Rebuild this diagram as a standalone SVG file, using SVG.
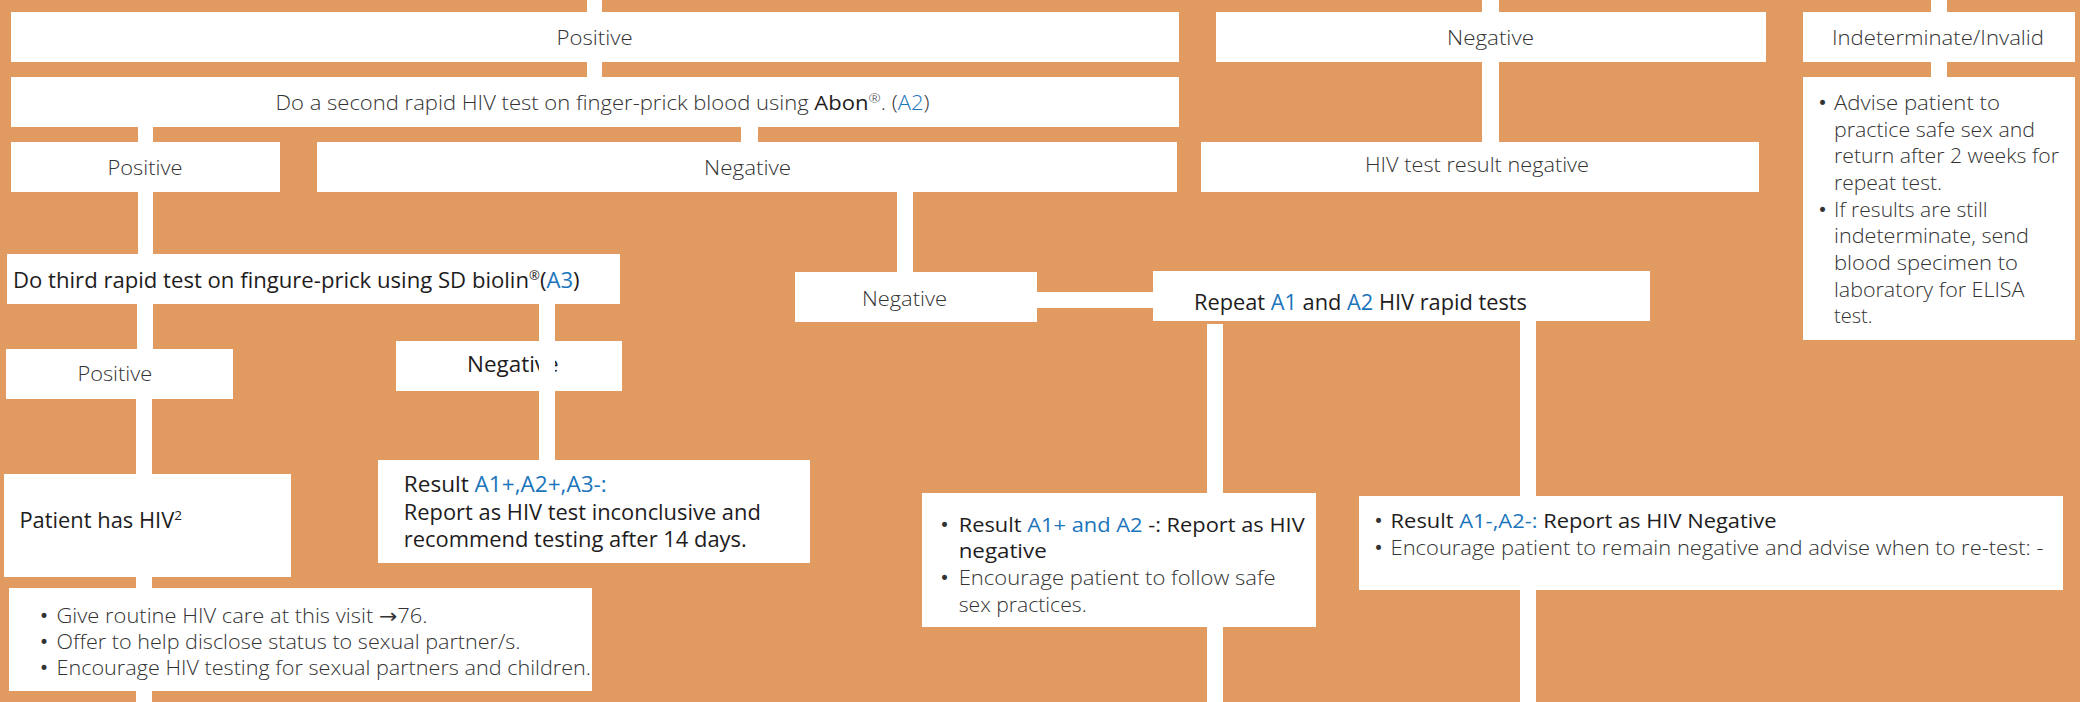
<svg xmlns="http://www.w3.org/2000/svg" width="2080" height="702" viewBox="0 0 2080 702">
<defs>
<style>
.box{fill:#ffffff}
.con{fill:#ffffff}
text{font-family:"Open Sans","Liberation Sans",sans-serif}
.lt{font-weight:300;fill:#333333;font-size:19.5px}
.dk{font-weight:400;fill:#1e1c1d;font-size:20px}
.bl{fill:#1b75bb}
.sup{font-size:13px}
.mid{text-anchor:middle}
.bu{font-family:"DejaVu Sans","Liberation Sans",sans-serif;font-weight:400;fill:#333333;font-size:17px;text-anchor:middle}
.ar{font-family:"DejaVu Sans","Liberation Sans",sans-serif;font-weight:400}
</style>
</defs>
<rect x="0" y="0" width="2080" height="702" fill="#E19A60"/>

<g id="n-positive-top"><rect class="box" x="11" y="12" width="1168" height="50"/><text class="lt mid" x="594.6" y="45" textLength="76" lengthAdjust="spacingAndGlyphs">Positive</text></g>
<g id="n-negative-top"><rect class="box" x="1216" y="12" width="550" height="50"/><text class="lt mid" x="1490.5" y="45" textLength="87" lengthAdjust="spacingAndGlyphs">Negative</text></g>
<g id="n-indeterminate"><rect class="box" x="1803" y="12" width="272" height="50"/><text class="lt mid" x="1938" y="45" textLength="212" lengthAdjust="spacingAndGlyphs">Indeterminate/Invalid</text></g>

<g id="n-second-test"><rect class="box" x="11" y="77" width="1168" height="50"/><text class="lt" x="275.5" y="110" textLength="654" lengthAdjust="spacingAndGlyphs">Do a second rapid HIV test on finger-prick blood using <tspan class="dk" style="font-size:19.5px">Abon</tspan><tspan class="sup" dy="-7">®</tspan><tspan dy="7">. (</tspan><tspan class="bl">A2</tspan>)</text></g>

<g id="n-indet-advice"><rect class="box" x="1803" y="77" width="272" height="263"/>
<text class="bu" x="1822.5" y="109">•</text>
<text class="bu" x="1822.5" y="215.7">•</text>
<g class="lt" style="font-size:21px">
<text x="1834" y="110" textLength="166" lengthAdjust="spacingAndGlyphs">Advise patient to</text>
<text x="1834" y="136.7" textLength="201" lengthAdjust="spacingAndGlyphs">practice safe sex and</text>
<text x="1834" y="163.3" textLength="225" lengthAdjust="spacingAndGlyphs">return after 2 weeks for</text>
<text x="1834" y="190" textLength="108" lengthAdjust="spacingAndGlyphs">repeat test.</text>
<text x="1834" y="216.7" textLength="153.6" lengthAdjust="spacingAndGlyphs">If results are still</text>
<text x="1834" y="243.3" textLength="195" lengthAdjust="spacingAndGlyphs">indeterminate, send</text>
<text x="1834" y="270" textLength="184" lengthAdjust="spacingAndGlyphs">blood specimen to</text>
<text x="1834" y="296.7" textLength="190.4" lengthAdjust="spacingAndGlyphs">laboratory for ELISA</text>
<text x="1834" y="323.3" textLength="38.6" lengthAdjust="spacingAndGlyphs">test.</text>
</g></g>

<g id="n-positive-2"><rect class="box" x="11" y="142" width="269" height="50"/><text class="lt mid" x="145" y="175" textLength="75" lengthAdjust="spacingAndGlyphs">Positive</text></g>
<g id="n-negative-2"><rect class="box" x="317" y="142" width="860" height="50"/><text class="lt mid" x="747.6" y="175" textLength="87" lengthAdjust="spacingAndGlyphs">Negative</text></g>
<g id="n-hiv-negative"><rect class="box" x="1201" y="142" width="558" height="50"/><text class="lt mid" x="1477" y="171.7" textLength="224" lengthAdjust="spacingAndGlyphs">HIV test result negative</text></g>

<g id="n-third-test"><rect class="box" x="7" y="254" width="613" height="50"/><text class="dk" style="font-size:22px" x="13" y="288" textLength="566.6" lengthAdjust="spacingAndGlyphs">Do third rapid test on fingure-prick using SD biolin<tspan class="sup" dy="-8">®</tspan><tspan dy="8">(</tspan><tspan class="bl">A3</tspan>)</text></g>

<g id="n-negative-3"><rect class="box" x="795" y="272" width="242" height="50"/><text class="lt" x="862" y="306" textLength="85" lengthAdjust="spacingAndGlyphs">Negative</text></g>
<g id="n-repeat"><rect class="box" x="1153" y="271" width="497" height="50"/><text class="dk" style="font-size:21px" x="1194" y="309.5" textLength="333" lengthAdjust="spacingAndGlyphs">Repeat <tspan class="bl">A1</tspan> and <tspan class="bl">A2</tspan> HIV rapid tests</text></g>

<g id="n-positive-3"><rect class="box" x="6" y="349" width="227" height="50"/><text class="lt" x="77.4" y="380.7" textLength="74.8" lengthAdjust="spacingAndGlyphs">Positive</text></g>
<g id="n-negative-4"><rect class="box" x="396" y="341" width="226" height="50"/><text class="dk" style="font-size:21px" x="467" y="372.3" textLength="91.6" lengthAdjust="spacingAndGlyphs">Negative</text></g>

<g id="n-result-a3"><rect class="box" x="378" y="460" width="432" height="103"/>
<g class="dk" style="font-size:21.5px">
<text x="403.8" y="491.7" textLength="203" lengthAdjust="spacingAndGlyphs">Result <tspan class="bl">A1+,A2+,A3-:</tspan></text>
<text x="403.8" y="520" textLength="357" lengthAdjust="spacingAndGlyphs">Report as HIV test inconclusive and</text>
<text x="403.8" y="547.3" textLength="343" lengthAdjust="spacingAndGlyphs">recommend testing after 14 days.</text>
</g></g>

<g id="n-patient"><rect class="box" x="4" y="474" width="287" height="103"/><text class="dk" style="font-size:21px" x="19.4" y="528.3" textLength="162.6" lengthAdjust="spacingAndGlyphs">Patient has HIV<tspan class="sup" dy="-8">2</tspan></text></g>

<g id="n-care"><rect class="box" x="9" y="588" width="583" height="103"/>
<text class="bu" x="44" y="622.3">•</text>
<text class="bu" x="44" y="648.3">•</text>
<text class="bu" x="44" y="674">•</text>
<g class="lt" style="font-size:20px">
<text x="56.5" y="623.3" textLength="371" lengthAdjust="spacingAndGlyphs">Give routine HIV care at this visit <tspan class="ar">→</tspan>76.</text>
<text x="56.5" y="649.3" textLength="464" lengthAdjust="spacingAndGlyphs">Offer to help disclose status to sexual partner/s.</text>
<text x="56.5" y="675" textLength="534.5" lengthAdjust="spacingAndGlyphs">Encourage HIV testing for sexual partners and children.</text>
</g></g>

<g id="n-a1pos"><rect class="box" x="922" y="493" width="394" height="134"/>
<text class="bu" x="944.5" y="530.7">•</text>
<text class="dk" style="font-size:19.5px" x="958.7" y="531.7" textLength="346" lengthAdjust="spacingAndGlyphs">Result <tspan class="bl">A1+ and A2</tspan> -: Report as HIV</text>
<text class="dk" style="font-size:19.5px" x="958.7" y="558.3" textLength="88" lengthAdjust="spacingAndGlyphs">negative</text>
<text class="bu" x="944.5" y="584">•</text>
<text class="lt" x="958.7" y="585" textLength="317" lengthAdjust="spacingAndGlyphs">Encourage patient to follow safe</text>
<text class="lt" x="958.7" y="611.7" textLength="128" lengthAdjust="spacingAndGlyphs">sex practices.</text>
</g>

<g id="n-a1neg"><rect class="box" x="1359" y="496" width="704" height="94"/>
<text class="bu" x="1378.5" y="527.3">•</text>
<text class="dk" style="font-size:19.5px" x="1390.6" y="528.3" textLength="386" lengthAdjust="spacingAndGlyphs">Result <tspan class="bl">A1-,A2-:</tspan> Report as HIV Negative</text>
<text class="bu" x="1378.5" y="554">•</text>
<text class="lt" x="1390.6" y="555" textLength="653" lengthAdjust="spacingAndGlyphs">Encourage patient to remain negative and advise when to re-test: -</text>
</g>

<g id="connectors">
<rect class="con" x="587" y="0" width="15" height="12"/>
<rect class="con" x="587" y="62" width="15" height="15"/>
<rect class="con" x="1482" y="0" width="17" height="12"/>
<rect class="con" x="1482" y="62" width="17" height="80"/>
<rect class="con" x="1931" y="0" width="16" height="12"/>
<rect class="con" x="1931" y="62" width="16" height="15"/>
<rect class="con" x="138" y="127" width="15" height="15"/>
<rect class="con" x="741" y="127" width="17" height="15"/>
<rect class="con" x="138" y="192" width="15" height="62"/>
<rect class="con" x="897" y="192" width="16" height="80"/>
<rect class="con" x="1037" y="292" width="116" height="16"/>
<rect class="con" x="137" y="304" width="16" height="45"/>
<rect class="con" x="539" y="304" width="16" height="156"/>
<rect class="con" x="136" y="399" width="16" height="75"/>
<rect class="con" x="136" y="577" width="16" height="11"/>
<rect class="con" x="136" y="691" width="16" height="11"/>
<rect class="con" x="1207" y="324" width="16" height="169"/>
<rect class="con" x="1207" y="627" width="16" height="75"/>
<rect class="con" x="1520" y="321" width="16" height="175"/>
<rect class="con" x="1520" y="590" width="16" height="112"/>
</g>
</svg>
